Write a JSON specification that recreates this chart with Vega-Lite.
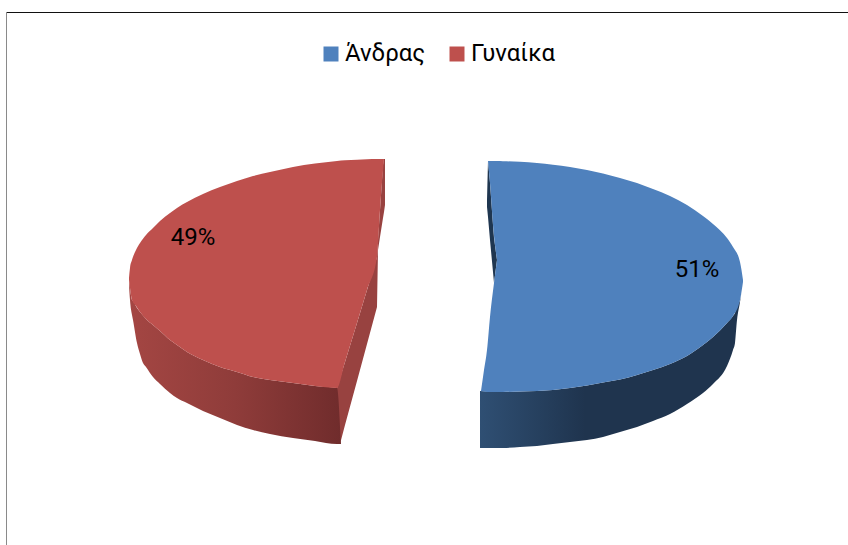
{"$schema":"https://vega.github.io/schema/vega-lite/v6.json","autosize":{"type":"none"},"width":848,"height":545,"padding":0,"background":"white","config":{"view":{"stroke":null}},
"datasets":{
"faces":[
{"g":"Γυναίκα","part":"a","x":129,"y":278,"y2":280},{"g":"Γυναίκα","part":"a","x":130,"y":268,"y2":288},{"g":"Γυναίκα","part":"a","x":132,"y":260,"y2":300},{"g":"Γυναίκα","part":"a","x":136,"y":250,"y2":306},{"g":"Γυναίκα","part":"a","x":140,"y":243,"y2":312},{"g":"Γυναίκα","part":"a","x":146,"y":235,"y2":319},{"g":"Γυναίκα","part":"a","x":153,"y":228,"y2":325},{"g":"Γυναίκα","part":"a","x":160,"y":221,"y2":331},{"g":"Γυναίκα","part":"a","x":170,"y":213,"y2":340},{"g":"Γυναίκα","part":"a","x":177,"y":208,"y2":345},{"g":"Γυναίκα","part":"a","x":187,"y":202,"y2":352},{"g":"Γυναίκα","part":"a","x":203,"y":194,"y2":360},{"g":"Γυναίκα","part":"a","x":220,"y":187,"y2":367},{"g":"Γυναίκα","part":"a","x":237,"y":181,"y2":372},{"g":"Γυναίκα","part":"a","x":253,"y":176,"y2":377},{"g":"Γυναίκα","part":"a","x":270,"y":172,"y2":380},{"g":"Γυναίκα","part":"a","x":293,"y":167,"y2":383},{"g":"Γυναίκα","part":"a","x":315,"y":163.5,"y2":386},{"g":"Γυναίκα","part":"a","x":337,"y":161,"y2":388},{"g":"Γυναίκα","part":"a","x":345,"y":160.3,"y2":362},{"g":"Γυναίκα","part":"a","x":357,"y":159.8,"y2":323},{"g":"Γυναίκα","part":"a","x":367,"y":159.3,"y2":290},{"g":"Γυναίκα","part":"a","x":377,"y":159,"y2":257},{"g":"Γυναίκα","part":"a","x":380,"y":159,"y2":210},{"g":"Γυναίκα","part":"a","x":384,"y":159,"y2":159},
{"g":"Άνδρας","part":"b","x":481,"y":391,"y2":391},{"g":"Άνδρας","part":"b","x":484,"y":370,"y2":391.5},{"g":"Άνδρας","part":"b","x":487,"y":350,"y2":392},{"g":"Άνδρας","part":"b","x":490,"y":317,"y2":392},{"g":"Άνδρας","part":"b","x":494,"y":283,"y2":392},{"g":"Άνδρας","part":"b","x":497,"y":260,"y2":392},
{"g":"Άνδρας","part":"c","x":488,"y":161,"y2":161},{"g":"Άνδρας","part":"c","x":490,"y":161,"y2":183},{"g":"Άνδρας","part":"c","x":493,"y":161,"y2":225},{"g":"Άνδρας","part":"c","x":497,"y":161,"y2":260},
{"g":"Άνδρας","part":"d","x":497,"y":161,"y2":392},{"g":"Άνδρας","part":"d","x":503,"y":161.2,"y2":392},{"g":"Άνδρας","part":"d","x":520,"y":161.8,"y2":391.5},{"g":"Άνδρας","part":"d","x":537,"y":163,"y2":391},{"g":"Άνδρας","part":"d","x":553,"y":164.7,"y2":390},{"g":"Άνδρας","part":"d","x":570,"y":167,"y2":388},{"g":"Άνδρας","part":"d","x":587,"y":170,"y2":385.5},{"g":"Άνδρας","part":"d","x":603,"y":173.5,"y2":382.5},{"g":"Άνδρας","part":"d","x":620,"y":178,"y2":379.5},{"g":"Άνδρας","part":"d","x":637,"y":183,"y2":375},{"g":"Άνδρας","part":"d","x":653,"y":189,"y2":370},{"g":"Άνδρας","part":"d","x":670,"y":196,"y2":364},{"g":"Άνδρας","part":"d","x":687,"y":205,"y2":356},{"g":"Άνδρας","part":"d","x":703,"y":216,"y2":345},{"g":"Άνδρας","part":"d","x":713,"y":224,"y2":337},{"g":"Άνδρας","part":"d","x":727,"y":238,"y2":323},{"g":"Άνδρας","part":"d","x":733,"y":247,"y2":316},{"g":"Άνδρας","part":"d","x":740,"y":262,"y2":300},{"g":"Άνδρας","part":"d","x":743,"y":280,"y2":282}],
"redSide":[{"x":129,"y":280,"y2":285},{"x":130,"y":288,"y2":300},{"x":132,"y":300,"y2":315},{"x":133,"y":301,"y2":320},{"x":137,"y":308,"y2":343},{"x":140,"y":312,"y2":354},{"x":143,"y":315.5,"y2":363},{"x":146,"y":319,"y2":367},{"x":153,"y":325,"y2":377},{"x":160,"y":331,"y2":384},{"x":170,"y":340,"y2":393},{"x":177,"y":345,"y2":398},{"x":187,"y":352,"y2":403},{"x":203,"y":360,"y2":411},{"x":220,"y":367,"y2":418},{"x":237,"y":372,"y2":425},{"x":253,"y":377,"y2":430},{"x":270,"y":380,"y2":434},{"x":293,"y":383,"y2":438},{"x":315,"y":386,"y2":441},{"x":337,"y":388,"y2":444},{"x":341,"y":444,"y2":444}],
"redWall":[{"x":337,"y":388,"y2":444},{"x":340,"y":378,"y2":444},{"x":345,"y":362,"y2":425},{"x":357,"y":323,"y2":381},{"x":367,"y":290,"y2":344},{"x":377,"y":257,"y2":307},{"x":378,"y":240,"y2":250},{"x":380,"y":210,"y2":237},{"x":383,"y":165,"y2":218},{"x":384,"y":159,"y2":212},{"x":385,"y":159,"y2":205}],
"blueSide":[{"x":480,"y":391,"y2":448},{"x":503,"y":392,"y2":448},{"x":520,"y":391.5,"y2":447},{"x":537,"y":391,"y2":446},{"x":553,"y":390,"y2":444},{"x":570,"y":388,"y2":442},{"x":587,"y":385.5,"y2":440},{"x":603,"y":382.5,"y2":437},{"x":620,"y":379.5,"y2":432},{"x":637,"y":375,"y2":427},{"x":653,"y":370,"y2":421},{"x":670,"y":364,"y2":414},{"x":687,"y":356,"y2":404},{"x":703,"y":345,"y2":393},{"x":713,"y":337,"y2":384},{"x":727,"y":323,"y2":366},{"x":733,"y":316,"y2":350},{"x":735,"y":313,"y2":343},{"x":737,"y":306,"y2":320},{"x":740,"y":300,"y2":302},{"x":743,"y":282,"y2":282}],
"blueWall":[{"x":487,"y":200,"y2":207},{"x":488,"y":161,"y2":217},{"x":490,"y":183,"y2":240},{"x":493,"y":225,"y2":272},{"x":494,"y":238,"y2":283},{"x":497,"y":260,"y2":260}],
"labels":[{"t":"51%","x":697,"y":270},{"t":"49%","x":193,"y":238}],
"frameTop":[{"x":7,"x2":848,"y":12.5}],
"frameLeft":[{"x":6.5,"y":12,"y2":545}]},
"layer":[
{"data":{"name":"frameTop"},"mark":{"type":"rule","color":"#111111","strokeWidth":1},"encoding":{"x":{"field":"x","type":"quantitative","scale":{"domain":[0,848],"nice":false,"zero":false},"axis":null},"x2":{"field":"x2"},"y":{"field":"y","type":"quantitative","scale":{"domain":[545,0],"nice":false,"zero":false},"axis":null}}},
{"data":{"name":"frameLeft"},"mark":{"type":"rule","color":"#8a8a8a","strokeWidth":1},"encoding":{"x":{"field":"x","type":"quantitative","axis":null},"y":{"field":"y","type":"quantitative","axis":null},"y2":{"field":"y2"}}},
{"data":{"name":"redWall"},"mark":{"type":"area","color":"#984240"},"encoding":{"x":{"field":"x","type":"quantitative","axis":null},"y":{"field":"y","type":"quantitative","axis":null},"y2":{"field":"y2"}}},
{"data":{"name":"redSide"},"mark":{"type":"area","interpolate":"monotone","color":{"gradient":"linear","x1":0,"y1":0,"x2":1,"y2":0,"stops":[{"offset":0,"color":"#a44643"},{"offset":0.5,"color":"#8f3c3a"},{"offset":1,"color":"#702c2c"}]}},"encoding":{"x":{"field":"x","type":"quantitative","axis":null},"y":{"field":"y","type":"quantitative","axis":null},"y2":{"field":"y2"}}},
{"data":{"name":"blueSide"},"mark":{"type":"area","interpolate":"monotone","color":{"gradient":"linear","x1":0,"y1":0,"x2":1,"y2":0,"stops":[{"offset":0,"color":"#2f4f73"},{"offset":0.4,"color":"#1f344e"},{"offset":1,"color":"#1f344e"}]}},"encoding":{"x":{"field":"x","type":"quantitative","axis":null},"y":{"field":"y","type":"quantitative","axis":null},"y2":{"field":"y2"}}},
{"data":{"name":"blueWall"},"mark":{"type":"area","color":"#1f3650"},"encoding":{"x":{"field":"x","type":"quantitative","axis":null},"y":{"field":"y","type":"quantitative","axis":null},"y2":{"field":"y2"}}},
{"data":{"name":"faces"},"mark":{"type":"area","interpolate":"monotone"},"encoding":{"x":{"field":"x","type":"quantitative","axis":null},"y":{"field":"y","type":"quantitative","axis":null},"y2":{"field":"y2"},"detail":{"field":"part"},"color":{"field":"g","type":"nominal","scale":{"domain":["Άνδρας","Γυναίκα"],"range":["#4F81BD","#BE504D"]},"legend":{"title":null,"orient":"none","legendX":319,"legendY":42,"direction":"horizontal","symbolType":"square","symbolSize":225,"symbolOpacity":1,"labelFontSize":24,"labelFont":"Roboto","labelColor":"#000000","columnPadding":19,"labelOffset":2}}}},
{"data":{"name":"labels"},"mark":{"type":"text","font":"Roboto","fontSize":24,"color":"#000000"},"encoding":{"x":{"field":"x","type":"quantitative","axis":null},"y":{"field":"y","type":"quantitative","axis":null},"text":{"field":"t"}}}
]}
